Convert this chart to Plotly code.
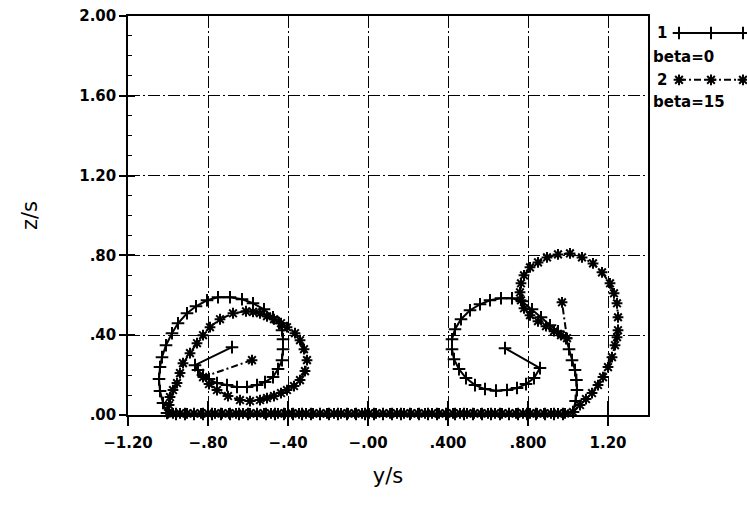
import plotly.graph_objects as go

# Vortex trajectories, lateral position y/s against height z/s
# Series "1": beta = 0, series "2": beta = 15 (degrees of sideslip)

# --- beta = 0 -------------------------------------------------------------
beta0_left_y = [-0.68, -0.865, -0.85, -0.825, -0.795, -0.755, -0.705, -0.655, -0.605,
                -0.555, -0.515, -0.475, -0.45, -0.43, -0.425, -0.425, -0.43, -0.445,
                -0.475, -0.52, -0.575, -0.63, -0.69, -0.75, -0.805, -0.86, -0.905,
                -0.95, -0.98, -1.01, -1.03, -1.04, -1.045, -1.04, -1.025, -1.005]
beta0_left_z = [0.34, 0.25, 0.225, 0.20, 0.18, 0.16, 0.15, 0.14, 0.14,
                0.15, 0.165, 0.19, 0.23, 0.275, 0.33, 0.38, 0.425, 0.46,
                0.49, 0.53, 0.56, 0.58, 0.59, 0.59, 0.575, 0.545, 0.51,
                0.46, 0.41, 0.35, 0.29, 0.24, 0.18, 0.12, 0.06, 0.01]

beta0_ground_y = [-0.96, -0.915, -0.87, -0.825, -0.78, -0.735, -0.69, -0.645, -0.60,
                  -0.555, -0.51, -0.465, -0.42, -0.375, -0.33, -0.285, -0.24, -0.195,
                  -0.15, -0.105, -0.06, -0.015, 0.03, 0.075, 0.12, 0.165, 0.21, 0.255,
                  0.30, 0.345, 0.39, 0.435, 0.48, 0.525, 0.57, 0.615, 0.66, 0.705,
                  0.75, 0.795, 0.84, 0.885, 0.93, 0.975]
beta0_ground_z = [0.005] * len(beta0_ground_y)

beta0_right_y = [1.025, 1.038, 1.045, 1.042, 1.035, 1.02, 1.005, 0.99, 0.95, 0.91,
                 0.865, 0.82, 0.77, 0.72, 0.665, 0.61, 0.56, 0.51, 0.465, 0.435,
                 0.42, 0.42, 0.43, 0.455, 0.49, 0.535, 0.585, 0.64, 0.695, 0.745,
                 0.79, 0.83, 0.86, 0.685]
beta0_right_z = [0.015, 0.07, 0.125, 0.175, 0.225, 0.275, 0.33, 0.385, 0.42, 0.45,
                 0.49, 0.53, 0.57, 0.585, 0.585, 0.575, 0.555, 0.525, 0.48, 0.43,
                 0.38, 0.33, 0.28, 0.23, 0.185, 0.15, 0.13, 0.122, 0.125, 0.135,
                 0.155, 0.185, 0.235, 0.335]

# --- beta = 15 ------------------------------------------------------------
beta15_left_y = [-0.58, -0.825, -0.795, -0.755, -0.70, -0.64, -0.59, -0.54, -0.505,
                 -0.47, -0.435, -0.405, -0.37, -0.34, -0.315, -0.305, -0.32, -0.34,
                 -0.365, -0.405, -0.435, -0.47, -0.505, -0.54, -0.575, -0.61, -0.675,
                 -0.74, -0.79, -0.825, -0.855, -0.89, -0.925, -0.94, -0.955, -0.975,
                 -0.99, -0.995, -1.0]
beta15_left_z = [0.275, 0.19, 0.155, 0.125, 0.095, 0.075, 0.07, 0.075, 0.085,
                 0.095, 0.11, 0.125, 0.145, 0.175, 0.22, 0.275, 0.33, 0.375,
                 0.41, 0.44, 0.46, 0.48, 0.495, 0.51, 0.517, 0.52, 0.51,
                 0.48, 0.44, 0.40, 0.36, 0.31, 0.26, 0.21, 0.16, 0.125,
                 0.09, 0.05, 0.01]

beta15_ground_y = [-0.975, -0.94, -0.905, -0.87, -0.835, -0.80, -0.765, -0.73, -0.695,
                   -0.66, -0.625, -0.59, -0.555, -0.52, -0.485, -0.45, -0.415, -0.38,
                   -0.345, -0.31, -0.275, -0.24, -0.205, -0.17, -0.135, -0.10, -0.065,
                   -0.03, 0.005, 0.04, 0.075, 0.11, 0.145, 0.18, 0.215, 0.25, 0.285,
                   0.32, 0.355, 0.39, 0.425, 0.46, 0.495, 0.53, 0.565, 0.60, 0.635,
                   0.67, 0.705, 0.74, 0.775, 0.81, 0.845, 0.88, 0.915, 0.95, 0.985]
beta15_ground_z = [0.008] * len(beta15_ground_y)

beta15_right_y = [1.025, 1.06, 1.09, 1.12, 1.15, 1.175, 1.20, 1.22, 1.235, 1.245,
                  1.25, 1.25, 1.245, 1.23, 1.21, 1.17, 1.125, 1.07, 1.01, 0.95,
                  0.895, 0.85, 0.81, 0.78, 0.765, 0.76, 0.765, 0.78, 0.81, 0.85,
                  0.89, 0.93, 0.965, 0.995, 0.97]
beta15_right_z = [0.015, 0.05, 0.08, 0.11, 0.15, 0.19, 0.24, 0.29, 0.35, 0.39,
                  0.425, 0.49, 0.56, 0.61, 0.66, 0.715, 0.76, 0.79, 0.81, 0.805,
                  0.79, 0.765, 0.74, 0.70, 0.66, 0.615, 0.575, 0.535, 0.50, 0.47,
                  0.445, 0.42, 0.40, 0.385, 0.565]

# Axis tick labels
x_tick_vals = [-1.2, -0.8, -0.4, 0.0, 0.4, 0.8, 1.2]
x_tick_text = ["\u22121.20", "\u2212.80", "\u2212.40", "\u2212.00", ".400", ".800", "1.20"]
y_tick_vals = [0.0, 0.4, 0.8, 1.2, 1.6, 2.0]
y_tick_text = [".00", ".40", ".80", "1.20", "1.60", "2.00"]

FONT = "DejaVu Sans"
INK = "black"

beta0_y = beta0_left_y + beta0_ground_y + beta0_right_y
beta0_z = beta0_left_z + beta0_ground_z + beta0_right_z
beta15_y = beta15_left_y + beta15_ground_y + beta15_right_y
beta15_z = beta15_left_z + beta15_ground_z + beta15_right_z

style0 = dict(mode="lines+markers",
              line=dict(color=INK, width=2),
              marker=dict(symbol="cross-thin-open", size=9,
                          line=dict(color=INK, width=2)))
style15 = dict(mode="lines+markers",
               line=dict(color=INK, width=2, dash="7px,3px,2px,3px"),
               marker=dict(symbol="asterisk-open", size=9,
                           line=dict(color=INK, width=2)))

fig = go.Figure()
fig.add_trace(go.Scatter(x=beta0_y, y=beta0_z, name="beta=0", showlegend=False,
                         cliponaxis=False, **style0))
fig.add_trace(go.Scatter(x=beta15_y, y=beta15_z, name="beta=15", showlegend=False,
                         cliponaxis=False, **style15))

# Legend keys drawn on a small auxiliary axis in the right margin
key_x = [0, 1, 2]
fig.add_trace(go.Scatter(x=key_x, y=[1.915] * 3, xaxis="x2", yaxis="y2",
                         showlegend=False, cliponaxis=False, hoverinfo="skip", **style0))
fig.add_trace(go.Scatter(x=key_x, y=[1.68] * 3, xaxis="x2", yaxis="y2",
                         showlegend=False, cliponaxis=False, hoverinfo="skip", **style15))
# Carrier for the inner half of the crossing tick marks
fig.add_trace(go.Scatter(x=[None], y=[None], xaxis="x3", yaxis="y3",
                         showlegend=False, hoverinfo="skip"))

plot_w = 520 / 619
grid = dict(showgrid=True, gridcolor=INK, gridwidth=1, griddash="12px,3px,2px,3px")
tick_font = dict(family=FONT, size=15, color=INK, weight="bold")
fig.update_layout(
    width=747, height=511,
    margin=dict(l=128, r=0, t=16, b=96),
    paper_bgcolor="white", plot_bgcolor="white",
    font=dict(family=FONT, size=15, color=INK),
    xaxis=dict(domain=[0, plot_w], range=[-1.2, 1.4], tickvals=x_tick_vals,
               ticktext=x_tick_text, ticks="outside", ticklen=9, tickwidth=1.5,
               tickcolor=INK, showline=True, linecolor=INK, linewidth=1.5,
               mirror=True, zeroline=False, ticklabelstandoff=4, tickfont=tick_font,
               title=dict(text="y/s", font=dict(size=21), standoff=18), **grid),
    yaxis=dict(domain=[0, 1], range=[0, 2], tickvals=y_tick_vals,
               ticktext=y_tick_text, ticks="outside", ticklen=7, tickwidth=1.5,
               tickcolor=INK, showline=True, linecolor=INK, linewidth=1.5,
               mirror=True, zeroline=False, tickfont=tick_font,
               title=dict(text="z/s", font=dict(size=21), standoff=36), **grid),
    xaxis3=dict(overlaying="x", anchor="y3", range=[-1.2, 1.4], tickvals=x_tick_vals,
                ticks="inside", ticklen=14, tickwidth=1.5, tickcolor=INK,
                showticklabels=False, showgrid=False, zeroline=False, showline=False),
    yaxis3=dict(overlaying="y", anchor="x3", range=[0, 2], tickvals=y_tick_vals,
                ticks="inside", ticklen=7, tickwidth=1.5, tickcolor=INK,
                showticklabels=False, showgrid=False, zeroline=False, showline=False,
                minor=dict(dtick=0.1, tick0=0, ticks="inside", ticklen=4,
                           tickwidth=1, tickcolor=INK)),
    xaxis2=dict(domain=[548 / 619, 1], range=[-0.094, 2.125], visible=False,
                fixedrange=True),
    yaxis2=dict(domain=[0, 1], range=[0, 2], visible=False, anchor="x2",
                fixedrange=True),
)

legend_text = [("1", 0.851, 0.957), ("beta=0", 0.845, 0.897),
               ("2", 0.851, 0.840), ("beta=15", 0.845, 0.784)]
for txt, xp, yp in legend_text:
    fig.add_annotation(text=txt, x=xp, y=yp, xref="paper", yref="paper",
                       xanchor="left", yanchor="middle", showarrow=False,
                       font=dict(family=FONT, size=15, color=INK, weight="bold"))

fig.write_html("out.html")
